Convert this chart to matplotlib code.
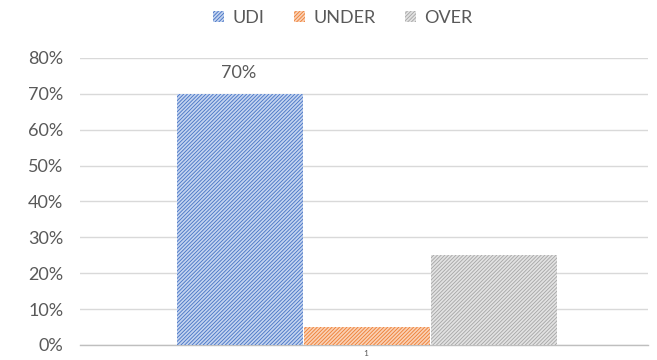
import matplotlib.pyplot as plt
from matplotlib.ticker import PercentFormatter

plt.rcParams['font.family'] = ['Lato', 'DejaVu Sans']
plt.rcParams['hatch.linewidth'] = 0.6

series = ['UDI', 'UNDER', 'OVER']
values = [0.70, 0.05, 0.25]
face_colors = ['#c3d3ef', '#fad0b4', '#e2e2e2']
hatch_colors = ['#4472c4', '#ed7d31', '#a5a5a5']
offsets = [-1, 0, 1]
text_color = '#595959'

fig = plt.figure(figsize=(6.57, 3.6), dpi=100)
ax = fig.add_axes([0.122, 0.042, 0.864, 0.797])

for name, val, fc, hc, off in zip(series, values, face_colors, hatch_colors, offsets):
    ax.bar(off + 0.01, val, width=0.99, color=fc, edgecolor=hc, hatch='/////////',
           linewidth=0, label=name, zorder=3)

# only the first series carries a data label
ax.text(offsets[0], values[0] + 0.035, f'{values[0]:.0%}', ha='center', va='bottom',
        fontsize=13, color=text_color)

ax.set_ylim(0, 0.8)
ax.set_xlim(-2.25, 2.22)
ax.set_yticks([i / 10 for i in range(9)])
ax.yaxis.set_major_formatter(PercentFormatter(1.0, decimals=0))
ax.set_xticks([0])
ax.set_xticklabels(['1'])

ax.grid(axis='y', color='#d9d9d9', linewidth=1, zorder=0)
for s in ['top', 'right', 'left']:
    ax.spines[s].set_visible(False)
ax.spines['bottom'].set_color('#bfbfbf')
ax.spines['bottom'].set_linewidth(1)

ax.tick_params(axis='y', length=0, labelsize=13, labelcolor=text_color, pad=12)
ax.tick_params(axis='x', length=0, labelsize=6, labelcolor=text_color, pad=4)

ax.legend(loc='center', bbox_to_anchor=(0.463, 1.139), ncol=3, frameon=False,
          fontsize=13, labelcolor=text_color, handlelength=0.6, handleheight=0.6,
          columnspacing=1.6, handletextpad=0.5)

fig.savefig('out.png', dpi=100)
